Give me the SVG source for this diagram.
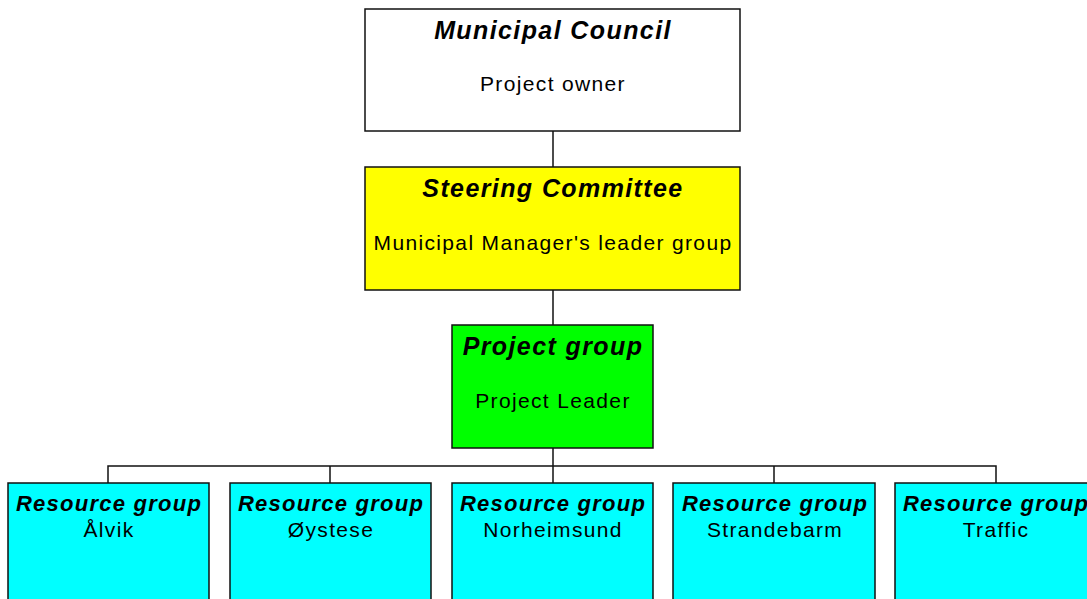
<svg xmlns="http://www.w3.org/2000/svg" width="1087" height="599" viewBox="0 0 1087 599">
<style>
.box{stroke:#111;stroke-width:1.5}
.t{font-family:"Liberation Sans",Arial,sans-serif;font-weight:bold;font-style:italic;font-size:25px;letter-spacing:1.4px;text-anchor:middle;fill:#000}
.rt{font-family:"Liberation Sans",Arial,sans-serif;font-weight:bold;font-style:italic;font-size:22px;letter-spacing:1.25px;text-anchor:middle;fill:#000}
.s{font-family:"Liberation Sans",Arial,sans-serif;font-size:21px;letter-spacing:1.35px;text-anchor:middle;fill:#000}
.c{stroke:#111;stroke-width:1.5;fill:none}
</style>
<rect width="1087" height="599" fill="#fff"/>
<g id="connectors">
<line class="c" x1="553" y1="131" x2="553" y2="167"/>
<line class="c" x1="553" y1="290" x2="553" y2="325"/>
<line class="c" x1="553" y1="448" x2="553" y2="483"/>
<polyline class="c" points="108,483 108,466 996,466 996,483"/>
<line class="c" x1="330" y1="466" x2="330" y2="483"/>
<line class="c" x1="774" y1="466" x2="774" y2="483"/>
</g>
<g id="council">
<rect class="box" x="365" y="9" width="375" height="122" fill="#fff"/>
<text class="t" x="553" y="39">Municipal Council</text>
<text class="s" x="553" y="91">Project owner</text>
</g>
<g id="steering">
<rect class="box" x="365" y="167" width="375" height="123" fill="#ffff00"/>
<text class="t" x="553" y="197">Steering Committee</text>
<text class="s" x="553" y="250">Municipal Manager's leader group</text>
</g>
<g id="project">
<rect class="box" x="452" y="325" width="201" height="123" fill="#00ff00"/>
<text class="t" x="553" y="355">Project group</text>
<text class="s" x="553" y="408">Project Leader</text>
</g>
<g id="rg-alvik">
<rect class="box" x="8" y="483" width="201" height="150" fill="#00ffff"/>
<text class="rt" x="109" y="511">Resource group</text>
<text class="s" x="109" y="537">Ålvik</text>
</g>
<g id="rg-oystese">
<rect class="box" x="230" y="483" width="201" height="150" fill="#00ffff"/>
<text class="rt" x="331" y="511">Resource group</text>
<text class="s" x="331" y="537">Øystese</text>
</g>
<g id="rg-norheimsund">
<rect class="box" x="452" y="483" width="201" height="150" fill="#00ffff"/>
<text class="rt" x="553" y="511">Resource group</text>
<text class="s" x="553" y="537">Norheimsund</text>
</g>
<g id="rg-strandebarm">
<rect class="box" x="673" y="483" width="202" height="150" fill="#00ffff"/>
<text class="rt" x="775" y="511">Resource group</text>
<text class="s" x="775" y="537">Strandebarm</text>
</g>
<g id="rg-traffic">
<rect class="box" x="895" y="483" width="201" height="150" fill="#00ffff"/>
<text class="rt" x="996" y="511">Resource group</text>
<text class="s" x="996" y="537">Traffic</text>
</g>
</svg>
